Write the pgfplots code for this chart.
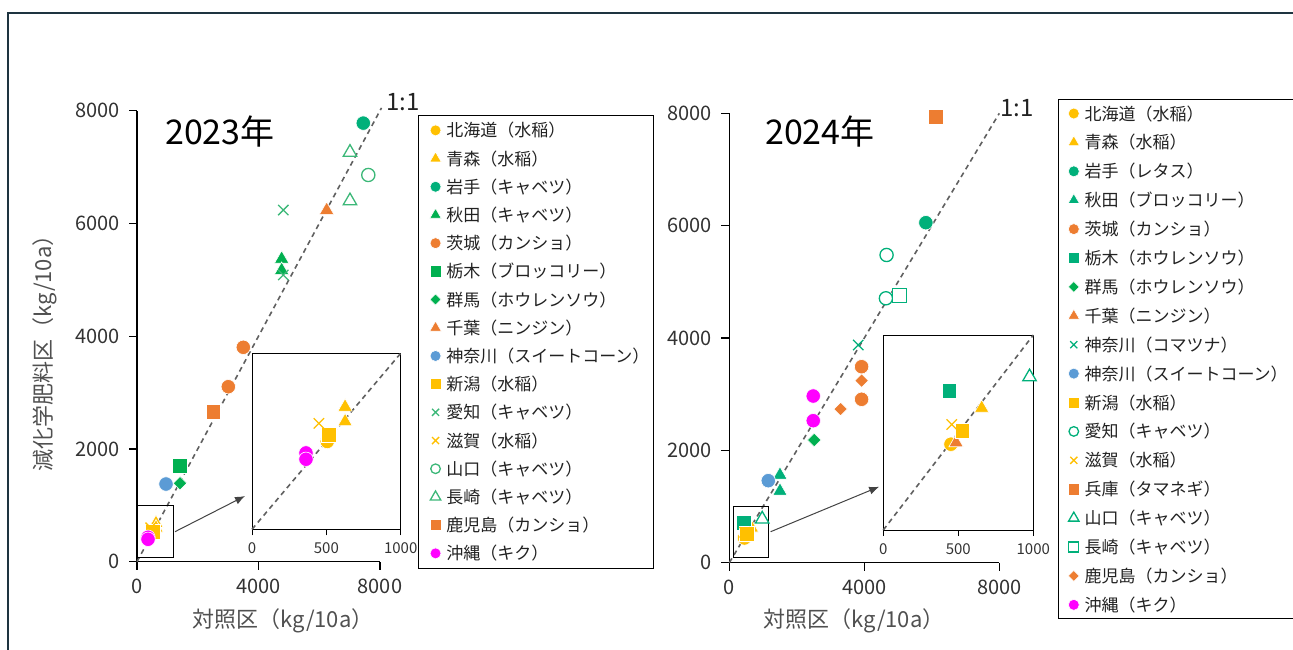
\documentclass[border=0pt]{standalone}
\usepackage{fontspec}
\setmainfont{Noto Sans CJK JP}
\usepackage{pgfplots}
\pgfplotsset{compat=1.18}
\usetikzlibrary{arrows.meta}

\definecolor{gold}{HTML}{FFC000}
\definecolor{cteal}{HTML}{00B07A}
\definecolor{cgreen}{HTML}{00B050}
\definecolor{clgreen}{HTML}{3CB878}
\definecolor{corange}{HTML}{ED7D31}
\definecolor{cblue}{HTML}{5B9BD5}
\definecolor{cmag}{HTML}{FF00FF}
\definecolor{dgray}{HTML}{606060}
\definecolor{tickc}{HTML}{333333}
\definecolor{labc}{HTML}{505050}
\definecolor{legc}{HTML}{222222}
\definecolor{framec}{HTML}{1E3440}

\newcommand{\fs}[1]{\fontsize{#1}{#1}\selectfont}

\pgfplotsset{
  mcirc/.style={only marks, mark=*, mark size=7.2pt, color=#1, mark options={solid, fill=#1, draw=white, line width=0.6pt}, legend image post style={mark size=5.5pt}},
  mtri/.style={only marks, mark=triangle*, mark size=8.3pt, color=#1, mark options={solid, fill=#1, draw=white, line width=0.6pt}, legend image post style={mark size=6.6pt}},
  msq/.style={only marks, mark=square*, mark size=7.4pt, color=#1, mark options={solid, fill=#1, draw=white, line width=0.6pt}, legend image post style={mark size=5.6pt}},
  mdia/.style={only marks, mark=square*, mark size=4.8pt, color=#1, mark options={solid, rotate=45, fill=#1, draw=white, line width=0.6pt}, legend image post style={mark size=3.9pt}},
  mx/.style={only marks, mark=x, mark size=7.3pt, color=#1, mark options={solid, draw=#1, line width=1.3pt}, legend image post style={mark size=5pt}},
  mocirc/.style={only marks, mark=*, mark size=6.6pt, color=#1, mark options={solid, fill=white, draw=#1, line width=1.3pt}, legend image post style={mark size=4.8pt}},
  motri/.style={only marks, mark=triangle*, mark size=7.8pt, color=#1, mark options={solid, fill=white, draw=#1, line width=1.3pt}, legend image post style={mark size=6pt}},
  mosq/.style={only marks, mark=square*, mark size=7pt, color=#1, mark options={solid, fill=white, draw=#1, line width=1.3pt}, legend image post style={mark size=5pt}},
  oneone/.style={forget plot, no markers, draw=dgray, line width=1.6pt, dash pattern=on 5pt off 4pt},
  mainax/.style={scale only axis, anchor=south west,
    xmin=0, xmax=8000, ymin=0, ymax=8000,
    axis x line=bottom, axis y line=left,
    axis line style={-, line width=1.2pt, black},
    tick style={black, line width=1.2pt},
    tick align=outside, major tick length=8pt,
    xtick={0,4000,8000}, ytick={0,2000,4000,6000,8000},
    /pgf/number format/1000 sep={},
    /pgf/number format/assume math mode=true,
    xticklabel style={font=\fs{20pt}, text=tickc, yshift=-6pt},
    yticklabel style={font=\fs{20pt}, text=tickc, xshift=-6pt},
    clip=false,
    legend cell align=left},
  insetax/.style={scale only axis, anchor=south west,
    xmin=0, xmax=1000, ymin=0, ymax=1000,
    xtick={0,500,1000}, ytick=\empty, xtick pos=bottom,
    tick align=outside, major tick length=6pt,
    tick style={black, line width=1pt},
    axis line style={black, line width=1pt},
    axis background/.style={fill=white},
    /pgf/number format/1000 sep={},
    /pgf/number format/assume math mode=true,
    xticklabel style={font=\fs{15pt}, text=tickc, yshift=-4pt},
    clip=false},
}

\begin{document}
\begin{tikzpicture}
\useasboundingbox (0pt,0pt) rectangle (1293pt,649pt);
\draw[framec, line width=1.5pt] (1295pt,636pt) -- (8pt,636pt) -- (8pt,-2pt);

% ---------------- 2023 ----------------
\begin{axis}[mainax, at={(137pt,87.3pt)}, width=243pt, height=451pt,
  legend image code/.code={\path[draw=none] (-11pt,0pt) -- (4pt,0pt); \draw[#1] plot coordinates {(0pt,0pt)};},
  legend style={at={(1.1551,0.9905)}, anchor=north west, draw=black, line width=1pt, fill=white,
    inner sep=6.35pt, row sep=11.2pt, column sep=5pt, font=\fs{17pt}, text=legc,
    nodes={inner sep=0pt, text height=15pt, text depth=2pt}}]
\addplot[oneone] coordinates {(0,0) (8050,8050)};
\addplot[mcirc=gold] coordinates {(506,499)}; \addlegendentry{北海道（水稲）}
\addplot[mtri=gold] coordinates {(626,680) (626,600)}; \addlegendentry{青森（水稲）}
\addplot[mcirc=cteal] coordinates {(7450,7780)}; \addlegendentry{岩手（キャベツ）}
\addplot[mtri=cgreen] coordinates {(4763,5370) (4763,5170)}; \addlegendentry{秋田（キャベツ）}
\addplot[mcirc=corange] coordinates {(3500,3803) (3006,3104)}; \addlegendentry{茨城（カンショ）}
\addplot[msq=cgreen] coordinates {(1416,1698)}; \addlegendentry{栃木（ブロッコリー）}
\addplot[mdia=cgreen] coordinates {(1416,1391)}; \addlegendentry{群馬（ホウレンソウ）}
\addplot[mtri=corange] coordinates {(6245,6235)}; \addlegendentry{千葉（ニンジン）}
\addplot[mcirc=cblue] coordinates {(955,1378)}; \addlegendentry{神奈川（スイートコーン）\hspace*{-2pt}}
\addplot[msq=gold] coordinates {(519,536)}; \addlegendentry{新潟（水稲）}
\addplot[mx=clgreen] coordinates {(4817,6238) (4817,5086)}; \addlegendentry{愛知（キャベツ）}
\addplot[mx=gold] coordinates {(450,602)}; \addlegendentry{滋賀（水稲）}
\addplot[mocirc=clgreen] coordinates {(7615,6860)}; \addlegendentry{山口（キャベツ）}
\addplot[motri=clgreen] coordinates {(7012,7260) (7012,6400)}; \addlegendentry{長崎（キャベツ）}
\addplot[msq=corange] coordinates {(2512,2661)}; \addlegendentry{鹿児島（カンショ）}
\addplot[mcirc=cmag] coordinates {(363,434) (363,398)}; \addlegendentry{沖縄（キク）}
\draw[black, line width=1pt] (axis cs:30,70) rectangle (axis cs:1195,990);
\draw[dgray!70!black, line width=1pt, -{Latex[length=10pt,width=8pt]}] (axis cs:1251,532) -- (axis cs:3556,1165);
\end{axis}

\begin{axis}[insetax, at={(252pt,119.7pt)}, width=148.7pt, height=176pt]
\addplot[oneone] coordinates {(0,0) (1000,1000)};
\addplot[mcirc=gold] coordinates {(506,499)};
\addplot[mtri=gold] coordinates {(626,695) (626,612)};
\addplot[msq=gold] coordinates {(519,536)};
\addplot[mx=gold] coordinates {(450,602)};
\addplot[mcirc=cmag] coordinates {(363,434) (363,398)};
\end{axis}

% ---------------- 2024 ----------------
\begin{axis}[mainax, at={(729.3pt,86.3pt)}, width=270pt, height=449.4pt,
  legend image code/.code={\path[draw=none] (-9.5pt,0pt) -- (4pt,0pt); \draw[#1] plot coordinates {(0pt,0pt)};},
  legend style={at={(1.2185,1.0318)}, anchor=north west, draw=black, line width=1pt, fill=white,
    inner sep=5.5pt, row sep=11.9pt, column sep=5pt, font=\fs{17pt}, text=legc,
    nodes={inner sep=0pt, text height=15pt, text depth=2pt}}]
\addplot[oneone] coordinates {(0,0) (8000,8000)};
\addplot[mcirc=gold] coordinates {(451,440)}; \addlegendentry{北海道（水稲）}
\addplot[mtri=gold] coordinates {(656,620)}; \addlegendentry{青森（水稲）}
\addplot[mcirc=cteal] coordinates {(5824,6053)}; \addlegendentry{岩手（レタス）}
\addplot[mtri=cteal] coordinates {(1501,1560) (1501,1275)}; \addlegendentry{秋田（ブロッコリー）}
\addplot[mcirc=corange] coordinates {(3920,3489) (3920,2909)}; \addlegendentry{茨城（カンショ）}
\addplot[msq=cteal] coordinates {(440,713)}; \addlegendentry{栃木（ホウレンソウ）}
\addplot[mdia=cgreen] coordinates {(2517,2184)}; \addlegendentry{群馬（ホウレンソウ）}
\addplot[mtri=corange] coordinates {(485,445)}; \addlegendentry{千葉（ニンジン）}
\addplot[mx=cteal] coordinates {(3819,3875)}; \addlegendentry{神奈川（コマツナ）}
\addplot[mcirc=cblue] coordinates {(1155,1460)}; \addlegendentry{神奈川（スイートコーン）\hspace*{7pt}}
\addplot[msq=gold] coordinates {(527,510)}; \addlegendentry{新潟（水稲）}
\addplot[mocirc=cteal] coordinates {(4660,5478) (4640,4707)}; \addlegendentry{愛知（キャベツ）}
\addplot[mx=gold] coordinates {(456,541)}; \addlegendentry{滋賀（水稲）}
\addplot[msq=corange] coordinates {(6120,7940)}; \addlegendentry{兵庫（タマネギ）}
\addplot[motri=cteal] coordinates {(975,775)}; \addlegendentry{山口（キャベツ）}
\addplot[mosq=cteal] coordinates {(5033,4753)}; \addlegendentry{長崎（キャベツ）}
\addplot[mdia=corange] coordinates {(3920,3240) (3298,2736)}; \addlegendentry{鹿児島（カンショ）}
\addplot[mcirc=cmag] coordinates {(2487,2967) (2487,2528)}; \addlegendentry{沖縄（キク）}
\draw[black, line width=1pt] (axis cs:118,89) rectangle (axis cs:1155,1009);
\draw[dgray!70!black, line width=1pt, -{Latex[length=10pt,width=8pt]}] (axis cs:1226,552) -- (axis cs:4441,1353);
\end{axis}

\begin{axis}[insetax, at={(883.3pt,119pt)}, width=150pt, height=195pt]
\addplot[oneone] coordinates {(0,0) (1000,1000)};
\addplot[mcirc=gold] coordinates {(451,440)};
\addplot[mtri=gold] coordinates {(656,625)};
\addplot[msq=cteal] coordinates {(440,713)};
\addplot[mtri=corange] coordinates {(485,448)};
\addplot[msq=gold] coordinates {(527,510)};
\addplot[mx=gold] coordinates {(456,541)};
\addplot[motri=cteal] coordinates {(975,785)};
\end{axis}

% texts
\node[anchor=west, inner sep=0pt, font=\fs{34pt}] at (165pt,517.3pt) {2023年};
\node[anchor=west, inner sep=0pt, font=\fs{34pt}] at (765pt,517.3pt) {2024年};
\node[anchor=west, inner sep=0pt, font=\fs{24pt}, text=legc] at (386pt,546.5pt) {1:1};
\node[anchor=west, inner sep=0pt, font=\fs{24pt}, text=legc] at (1000pt,541pt) {1:1};
\node[rotate=90, inner sep=0pt, font=\fs{22pt}, text=labc] at (45pt,301pt) {減化学肥料区（kg/10a）};
\node[inner sep=0pt, font=\fs{22pt}, text=labc] at (283pt,28pt) {対照区（kg/10a）};
\node[inner sep=0pt, font=\fs{22pt}, text=labc] at (854pt,28pt) {対照区（kg/10a）};
\end{tikzpicture}
\end{document}
